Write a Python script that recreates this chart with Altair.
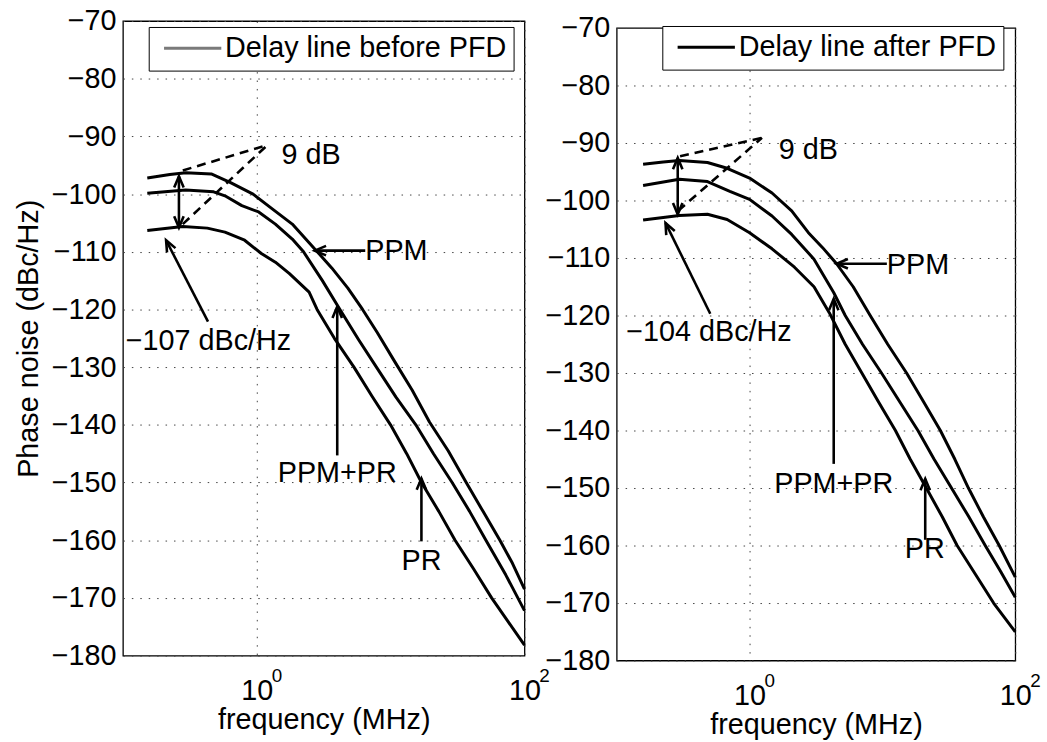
import math

import altair as alt
import pandas as pd

FONT = "Liberation Sans"
FS = 29

X_DOMAIN = [0.1, 100]
Y_DOMAIN = [-180, -70]
Y_TICKS = list(range(-180, -69, 10))
X_TICKS = [1, 100]
X_TICK_EXP = ["0", "2"]

# ---- Delay line before PFD (left panel): frequency in MHz, phase noise in dBc/Hz ----
before_ppm_f = [0.152, 0.224, 0.295, 0.457, 0.637, 0.938, 1.312, 1.841, 2.71, 3.63, 4.79, 6.17,
                7.94, 10.7, 14.5, 19.5, 26.9, 36.7, 49.0, 65.5, 81.3, 100]
before_ppm_db = [-97.2, -96.6, -96.3, -96.5, -98.0, -100.0, -102.6, -105.2, -109.5, -112.8, -116.3, -120.0,
                 -124.0, -129.0, -134.0, -139.5, -144.5, -150.0, -155.0, -160.0, -164.0, -168.5]
before_ppmpr_f = [0.152, 0.294, 0.476, 0.578, 0.773, 1.033, 1.377, 1.841, 2.234, 3.09, 4.18, 5.75,
                  7.83, 10.96, 15.42, 20.9, 28.8, 38.9, 51.5, 72.4, 100]
before_ppmpr_db = [-99.85, -99.3, -99.6, -100.3, -102.0, -103.1, -105.2, -107.8, -110.0, -115.0, -120.0, -125.2,
                   -130.0, -135.2, -140.0, -145.0, -150.0, -155.0, -160.0, -166.0, -172.2]
before_pr_f = [0.152, 0.28, 0.427, 0.578, 0.811, 1.081, 1.377, 1.754, 2.46, 2.82, 3.80, 5.32,
               7.24, 9.98, 13.18, 17.0, 22.9, 30.3, 41.7, 56.8, 75.9, 100]
before_pr_db = [-106.3, -105.6, -105.9, -106.6, -108.0, -110.3, -111.8, -113.8, -117.0, -120.0, -125.0, -130.0,
                -135.0, -140.0, -145.0, -150.0, -155.0, -160.0, -165.0, -170.0, -174.2, -178.2]

# ---- Delay line after PFD (right panel) ----
after_ppm_f = [0.158, 0.224, 0.296, 0.482, 0.678, 1.0, 1.476, 2.075, 2.773, 3.548, 4.519, 6.026,
               8.091, 10.96, 15.2, 20.4, 27.3, 35.1, 44.4, 57.5, 75.7, 100]
after_ppm_db = [-93.7, -93.3, -93.05, -93.4, -94.4, -96.1, -98.7, -101.8, -105.6, -108.2, -111.0, -115.0,
                -120.0, -125.0, -130.0, -135.0, -140.0, -145.0, -150.0, -155.0, -160.0, -165.5]
after_ppmpr_f = [0.158, 0.296, 0.482, 0.711, 1.0, 1.476, 2.075, 3.055, 4.295, 5.248, 7.079, 9.84,
                 13.49, 18.5, 24.5, 33.1, 44.7, 59.4, 77.6, 100]
after_ppmpr_db = [-97.4, -96.3, -96.7, -98.4, -99.8, -102.7, -105.9, -110.2, -116.0, -120.0, -125.0, -130.0,
                  -135.0, -140.0, -145.0, -150.0, -155.0, -160.0, -164.5, -169.0]
after_pr_f = [0.158, 0.296, 0.482, 0.678, 1.0, 1.476, 2.178, 3.055, 3.981, 5.248, 7.0, 9.33,
              12.53, 16.2, 21.4, 28.2, 36.5, 50.1, 68.7, 100]
after_pr_db = [-103.4, -102.6, -102.4, -103.3, -105.6, -108.4, -111.6, -115.0, -119.5, -125.0, -130.0, -135.0,
               -140.0, -145.0, -150.0, -155.0, -160.0, -165.0, -170.0, -175.0]

# ---- annotations: text labels (f, dB, text, align) ----
before_texts = [
    (1.53, -93.2, "9 dB", "left"),
    (0.105, -125.5, "\u2212107 dBc/Hz", "left"),
    (6.46, -109.8, "PPM", "left"),
    (3.99, -148.4, "PPM+PR", "center"),
    (16.98, -163.6, "PR", "center"),
]
after_texts = [
    (1.66, -91.2, "9 dB", "left"),
    (0.118, -122.8, "\u2212104 dBc/Hz", "left"),
    (10.8, -111.2, "PPM", "left"),
    (4.30, -149.3, "PPM+PR", "center"),
    (20.8, -160.7, "PR", "center"),
]

# arrows: (f_tail, dB_tail, f_tip, dB_tip)
before_arrows = [
    (0.432, -122.1, 0.21, -108.0),
    (6.46, -109.8, 2.71, -109.8),
    (3.99, -145.3, 3.99, -119.5),
    (16.98, -160.2, 16.98, -149.3),
]
after_arrows = [
    (0.506, -119.7, 0.233, -103.9),
    (10.8, -111.0, 4.52, -111.0),
    (4.30, -145.8, 4.30, -117.1),
    (21.0, -159.0, 21.0, -148.4),
]

# two-headed arrow marking the 9 dB spread: (f, dB_top, dB_bottom)
before_span = (0.262, -96.9, -105.8)
after_span = (0.288, -92.6, -102.4)

# dashed guide lines: (f1, dB1, f2, dB2)
before_dashes = [(0.28, -95.9, 1.2, -91.5), (0.28, -105.2, 1.2, -91.5)]
after_dashes = [(0.30, -92.3, 1.24, -89.1), (0.29, -101.8, 1.24, -89.1)]

ARROW_HEAD = "M -0.42 1 L 0 0 L 0.42 1"
LEGEND_LINE = "M -0.55 0 L 4.7 0"


def curves_frame(curves):
    rows = []
    for name, fs, dbs in curves:
        for i, (f, d) in enumerate(zip(fs, dbs)):
            rows.append({"curve": name, "order": i, "f": f, "db": d})
    return pd.DataFrame(rows)


def head_angle(f_tail, db_tail, f_tip, db_tip, w, h):
    dx = (math.log10(f_tip) - math.log10(f_tail)) * w / 3.0
    up = (db_tip - db_tail) * h / 110.0
    return math.degrees(math.atan2(dx, up)) % 360


def panel(curves, legend_label, legend_color, legend_x, legend_y,
          texts, arrows, span, dashes, w, h, y_title):
    x_scale = alt.Scale(type="log", domain=X_DOMAIN, nice=False)
    y_scale = alt.Scale(domain=Y_DOMAIN, nice=False, zero=False)
    x_axis = alt.Axis(
        values=X_TICKS, labelExpr="'10'", title="frequency (MHz)",
        grid=True, gridDash=[1.5, 7], gridColor="#444", gridWidth=1,
        ticks=False, domain=False, labelFont=FONT, labelFontSize=FS,
        labelColor="black", labelPadding=21, labelFlush=False,
        titleFont=FONT, titleFontSize=FS, titleFontWeight="normal",
        titleColor="black", titlePadding=1,
    )
    y_axis = alt.Axis(
        values=Y_TICKS, title=y_title, grid=True, gridDash=[1.5, 7],
        gridColor="#444", gridWidth=1, ticks=False, domain=False,
        labelFont=FONT, labelFontSize=FS, labelColor="black", labelPadding=7,
        labelFlush=False,
        titleFont=FONT, titleFontSize=FS, titleFontWeight="normal",
        titleColor="black", titlePadding=8,
    )

    def X(field):
        return alt.X(field, type="quantitative", scale=x_scale, axis=x_axis)

    def Y(field):
        return alt.Y(field, type="quantitative", scale=y_scale, axis=y_axis)

    df = curves_frame(curves)
    lines = alt.Chart(df).mark_line(
        strokeWidth=3, strokeJoin="round", color="black"
    ).encode(x=X("f"), y=Y("db"), detail="curve:N", order="order:Q")

    # single-point series: draws nothing itself, only carries the legend entry
    key_df = pd.DataFrame({"f": [X_DOMAIN[1]], "db": [Y_DOMAIN[1]], "series": [legend_label]})
    key = alt.Chart(key_df).mark_line(strokeWidth=3).encode(
        x=X("f"), y=Y("db"),
        color=alt.Color(
            "series:N",
            scale=alt.Scale(domain=[legend_label], range=[legend_color]),
            legend=alt.Legend(
                title=None, orient="none", legendX=legend_x, legendY=legend_y,
                symbolType=LEGEND_LINE, symbolSize=484, symbolStrokeWidth=3,
                labelFont=FONT, labelFontSize=FS, labelColor="black",
                labelLimit=0, labelOffset=41, strokeColor="black",
                fillColor="white", padding=7,
            ),
        ),
    )

    tdf = pd.DataFrame([{"f": f, "db": d, "text": t, "align": a} for f, d, t, a in texts])
    left_txt = alt.Chart(tdf[tdf["align"] == "left"]).mark_text(
        font=FONT, fontSize=FS, align="left", baseline="middle", color="black"
    ).encode(x=X("f"), y=Y("db"), text="text:N")
    center_txt = alt.Chart(tdf[tdf["align"] == "center"]).mark_text(
        font=FONT, fontSize=FS, align="center", baseline="middle", color="black"
    ).encode(x=X("f"), y=Y("db"), text="text:N")

    shafts = [{"f1": a[0], "d1": a[1], "f2": a[2], "d2": a[3]} for a in arrows]
    shafts.append({"f1": span[0], "d1": span[1], "f2": span[0], "d2": span[2]})
    sdf = pd.DataFrame(shafts)
    shaft_rules = alt.Chart(sdf).mark_rule(strokeWidth=2.6, color="black").encode(
        x=X("f1"), y=Y("d1"), x2="f2:Q", y2="d2:Q"
    )

    heads = [{"f": a[2], "db": a[3], "angle": head_angle(*a, w, h)} for a in arrows]
    heads.append({"f": span[0], "db": span[1], "angle": 0.0})
    heads.append({"f": span[0], "db": span[2], "angle": 180.0})
    hdf = pd.DataFrame(heads)
    head_marks = alt.Chart(hdf).mark_point(
        shape=ARROW_HEAD, filled=False, size=520, strokeWidth=2.6,
        color="black", opacity=1, strokeJoin="miter",
    ).encode(x=X("f"), y=Y("db"), angle=alt.Angle("angle:Q", scale=None))

    ddf = pd.DataFrame([{"f1": a, "d1": b, "f2": c, "d2": d} for a, b, c, d in dashes])
    dash_rules = alt.Chart(ddf).mark_rule(
        strokeWidth=2.6, color="black", strokeDash=[9, 6]
    ).encode(x=X("f1"), y=Y("d1"), x2="f2:Q", y2="d2:Q")

    sup = pd.DataFrame({"f": X_TICKS, "db": [Y_DOMAIN[0]] * 2, "text": X_TICK_EXP})
    sup_marks = alt.Chart(sup).mark_text(
        font=FONT, fontSize=19, align="left", baseline="alphabetic",
        dx=15, dy=27, color="black",
    ).encode(x=X("f"), y=Y("db"), text="text:N")

    return alt.layer(
        lines, key, dash_rules, shaft_rules, head_marks, left_txt, center_txt, sup_marks
    ).properties(width=w, height=h)


left = panel(
    [("PPM", before_ppm_f, before_ppm_db),
     ("PPM+PR", before_ppmpr_f, before_ppmpr_db),
     ("PR", before_pr_f, before_pr_db)],
    "Delay line before PFD", "#7a7a7a", 26, 6,
    before_texts, before_arrows, before_span, before_dashes, 405, 640,
    "Phase noise (dBc/Hz)",
)
right = panel(
    [("PPM", after_ppm_f, after_ppm_db),
     ("PPM+PR", after_ppmpr_f, after_ppmpr_db),
     ("PR", after_pr_f, after_pr_db)],
    "Delay line after PFD", "black", 46, 5,
    after_texts, after_arrows, after_span, after_dashes, 402, 638, None,
)

spacer = alt.Chart(pd.DataFrame({"v": [0]})).mark_point(opacity=0).encode(
    x=alt.X("v:Q", axis=None), y=alt.Y("v:Q", axis=None)
).properties(width=402, height=7, view=alt.ViewBackground(stroke=None))

right_col = alt.vconcat(spacer, right, spacing=0, bounds="flush")

chart = alt.hconcat(left, right_col, spacing=93, bounds="flush").resolve_scale(
    color="independent"
).resolve_legend(color="independent").properties(
    padding={"left": 14, "top": 3, "right": 5, "bottom": 5},
    background="white",
).configure_view(stroke="black", strokeWidth=1.3)

chart.save("out.html", embed_options={"renderer": "svg", "actions": False})
